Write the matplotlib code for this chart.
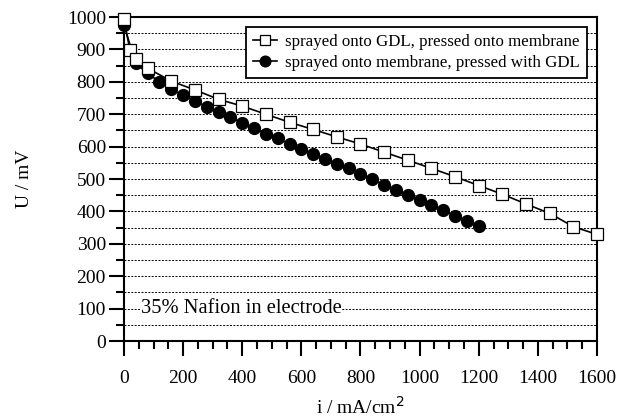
import matplotlib.pyplot as plt
from matplotlib.ticker import MultipleLocator

plt.rcParams['font.family'] = ['Liberation Serif', 'DejaVu Serif']

# sprayed onto GDL, pressed onto membrane
i_gdl = [0, 20, 40, 80, 160, 240, 320, 400, 480, 560, 640, 720, 800, 880,
         960, 1040, 1120, 1200, 1280, 1360, 1440, 1520, 1600]
u_gdl = [993, 898, 870, 842, 802, 775, 746, 725, 700, 675, 653, 630, 608, 583,
         558, 533, 507, 480, 453, 423, 394, 353, 329]

# sprayed onto membrane, pressed with GDL
i_mem = [0, 40, 80, 120, 160, 200, 240, 280, 320, 360, 400, 440, 480, 520,
         560, 600, 640, 680, 720, 760, 800, 840, 880, 920, 960, 1000, 1040,
         1080, 1120, 1160, 1200]
u_mem = [975, 857, 826, 800, 777, 759, 741, 723, 706, 690, 674, 656, 639, 626,
         608, 593, 577, 562, 547, 533, 515, 499, 481, 466, 451, 435, 419,
         404, 386, 371, 355]

labels = ["sprayed onto GDL, pressed onto membrane",
          "sprayed onto membrane, pressed with GDL"]

fig = plt.figure(figsize=(6.18, 4.2), dpi=100)
ax = fig.add_axes([0.2006, 0.188, 0.7654, 0.7715])

ax.plot(i_gdl, u_gdl, color="black", lw=1.2, marker="s", ms=8.5,
        mfc="white", mec="black", mew=0.9, label=labels[0], zorder=4,
        clip_on=False)
ax.plot(i_mem, u_mem, color="black", lw=1.2, marker="o", ms=8.5,
        mfc="black", mec="black", label=labels[1], zorder=3, clip_on=False)

ax.set_xlim(0, 1600)
ax.set_ylim(0, 1000)
ax.xaxis.set_major_locator(MultipleLocator(200))
ax.xaxis.set_minor_locator(MultipleLocator(50))
ax.yaxis.set_major_locator(MultipleLocator(100))
ax.yaxis.set_minor_locator(MultipleLocator(50))

ax.grid(True, axis="y", which="both", color="black", ls=(0, (2, 1.5)), lw=0.7)
ax.set_axisbelow(True)

for s in ax.spines.values():
    s.set_linewidth(1.5)
ax.tick_params(which="major", direction="out", length=11, width=1.5, labelsize=14)
ax.tick_params(which="minor", direction="out", length=6, width=1.5)
ax.tick_params(axis="x", which="major", pad=10)
ax.tick_params(axis="y", which="major", pad=2)

ax.set_xlabel("i / mA/cm$^2$", fontsize=14, labelpad=6)
ax.set_ylabel("U / mV", fontsize=14, labelpad=24)

ax.text(57, 100, "35% Nafion in electrode", fontsize=14.8, va="center", ha="left",
        bbox=dict(facecolor="white", edgecolor="none", pad=0.5), zorder=2)

leg = ax.legend(loc="upper right", fontsize=12.2, fancybox=False, framealpha=1,
                edgecolor="black", handlelength=1.4, borderpad=0.4,
                labelspacing=0.3, handletextpad=0.5, borderaxespad=0.6,
                markerscale=0.9)
leg.get_frame().set_linewidth(1.3)
leg.set_zorder(5)

fig.savefig("out.png", dpi=100)
